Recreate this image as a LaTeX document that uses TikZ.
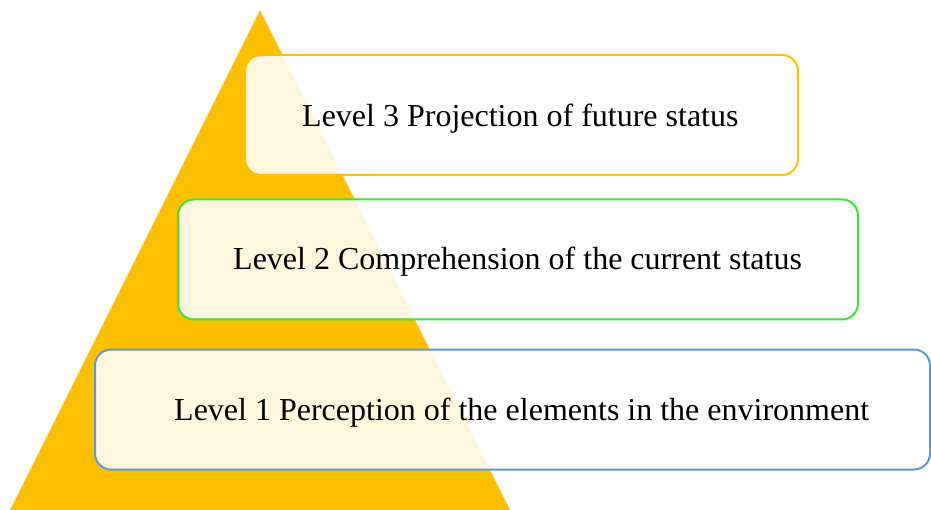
\documentclass[tikz,border=0pt]{standalone}
\usepackage{fontspec}
\setmainfont{Liberation Serif}
\definecolor{gold}{HTML}{FFC000}
\definecolor{lvgreen}{HTML}{3BE33B}
\definecolor{lvblue}{HTML}{5B9BD5}
\begin{document}
\begin{tikzpicture}[x=1pt,y=-1pt,
  levelbox/.style={draw, line width=2pt, rounded corners=16pt, fill=white, fill opacity=0.87, draw opacity=1, minimum height=120pt, inner sep=0pt},
  leveltext/.style={anchor=base west, inner sep=0pt, font=\fontsize{32}{38}\selectfont, text=black}]
\useasboundingbox (0,0) rectangle (931,510);
\fill[gold] (260,10) -- (510,510) -- (10,510) -- cycle;
\node[levelbox, draw=gold, minimum width=553pt] (b3) at (521.5,115) {};
\node[levelbox, draw=lvgreen, minimum width=680pt] (b2) at (518,259.5) {};
\node[levelbox, draw=lvblue, minimum width=835pt] (b1) at (512.5,409.5) {};
\node[leveltext] (t3) at (302,126.5) {Level 3 Projection of future status};
\node[leveltext] (t2) at (233,270) {Level 2 Comprehension of the current status};
\node[leveltext] (t1) at (174,420) {Level 1 Perception of the elements in the environment};
\end{tikzpicture}
\end{document}
